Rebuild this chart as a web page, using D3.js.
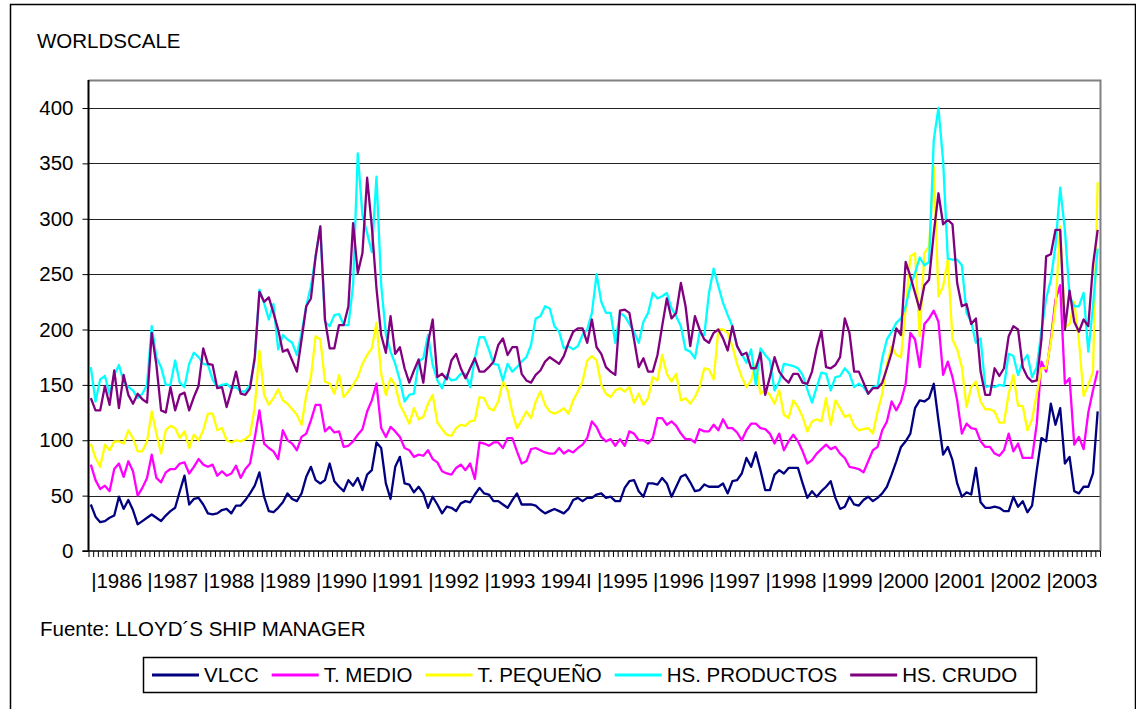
<!DOCTYPE html>
<html>
<head>
<meta charset="utf-8">
<script src="https://cdn.jsdelivr.net/npm/d3@7"></script>
<style>
  body { margin: 0; background: #fff; }
  text { font-family: Arial, "Liberation Sans", sans-serif; fill: #000; }
</style>
</head>
<body>
<div id="chart"></div>
<script>
// monthly values, Jan 1986 - Dec 2003 (WORLDSCALE)
var years = [1986,1987,1988,1989,1990,1991,1992,1993,1994,1995,1996,1997,1998,1999,2000,2001,2002,2003];
var yTicks = [0,50,100,150,200,250,300,350,400];

var vlcc = [42,31,26,27,30,32,49,38,46,37,24,27, 30,33,30,27,32,36,39,54,68,42,47,48,
  42,34,33,34,37,38,34,41,41,46,52,59, 71,49,36,35,39,44,52,47,45,52,67,76,
  64,61,64,79,63,58,54,64,59,66,55,69, 73,98,93,61,47,76,85,61,60,53,58,52,
  39,49,42,34,40,39,36,43,45,44,51,57, 52,51,45,45,42,39,46,52,42,42,42,41,
  37,34,36,38,36,34,38,46,48,45,48,48, 51,52,48,49,45,45,57,63,64,54,49,61,
  61,60,66,61,49,58,67,69,62,54,55,60, 58,58,58,61,52,63,64,70,84,76,89,73,
  55,55,69,73,70,75,75,75,61,48,54,49, 54,58,63,48,38,40,49,42,41,46,49,45,
  48,52,58,69,81,94,99,106,129,136,135,138, 151,118,87,94,82,61,49,53,51,75,44,39,
  39,40,39,36,36,49,40,45,35,41,73,102, 99,133,114,129,79,85,54,52,58,58,70,126];

var medio = [78,64,56,59,54,74,79,67,81,72,50,57, 66,87,66,62,71,74,74,79,80,70,76,83,
  78,76,78,68,72,68,70,77,66,74,79,102, 127,97,93,90,83,109,100,97,91,103,106,118,
  132,132,108,112,107,108,94,95,99,105,110,126, 136,151,111,103,112,108,103,93,91,85,87,86,
  91,83,80,72,70,69,75,78,73,79,65,98, 97,95,98,98,93,102,102,90,79,81,92,93,
  91,89,88,88,93,88,91,89,93,96,102,117, 112,103,99,101,95,101,95,108,106,100,100,97,
  102,120,120,114,117,113,106,101,101,98,110,108, 108,114,109,119,111,111,107,100,109,115,115,111,
  110,106,97,106,91,99,105,99,90,79,82,88, 92,96,92,94,88,84,76,75,74,71,81,91,
  94,109,117,135,127,135,151,197,191,166,205,210, 217,207,159,171,157,136,106,115,111,110,99,94,
  94,88,86,91,106,90,97,84,84,84,115,171, 162,191,227,240,151,156,96,103,92,125,145,163];

var pequeno = [97,84,76,96,91,99,99,97,109,102,90,90, 99,126,106,88,109,113,111,102,108,93,105,100,
  109,124,124,109,111,100,98,100,99,101,105,130, 181,141,132,138,146,136,133,128,123,114,141,157,
  194,191,153,151,142,159,139,144,150,157,169,177, 183,206,160,141,156,150,132,124,115,129,119,121,
  133,141,116,110,105,104,111,114,113,117,118,139, 138,129,127,135,153,145,125,111,118,126,120,135,
  144,132,126,124,126,129,124,136,144,153,172,176, 172,150,142,139,145,147,144,148,134,142,132,138,
  157,154,177,160,153,160,136,138,133,139,148,165, 164,155,200,200,197,185,169,157,148,154,169,142,
  145,141,133,145,123,120,136,130,121,108,117,119, 117,138,114,136,129,121,123,113,109,110,111,106,
  126,142,169,185,177,175,218,266,269,194,269,275, 347,230,239,263,191,182,166,130,148,153,135,128,
  128,126,116,116,142,159,131,131,109,119,142,165, 165,188,221,293,202,205,225,190,140,150,162,333];

var productos = [166,135,155,158,142,159,168,153,148,145,138,142, 150,203,175,166,150,150,172,152,148,169,179,175,
  169,168,155,148,150,151,147,148,144,144,150,172, 236,224,209,223,182,195,191,188,177,197,221,239,
  266,293,207,203,213,214,204,204,240,359,303,287, 270,338,240,196,180,169,154,135,141,142,171,174,
  195,168,154,147,159,154,155,160,160,148,174,193, 193,182,169,168,154,169,162,166,171,175,186,210,
  212,221,219,203,198,183,185,182,185,195,200,215, 250,225,215,215,188,215,212,205,198,188,207,215,
  233,228,230,233,219,212,203,182,180,174,197,195, 233,255,239,224,213,203,185,178,170,182,150,183,
  177,172,145,153,169,168,167,165,159,146,134,148, 161,160,145,157,158,165,160,148,151,148,142,148,
  149,174,191,198,206,210,221,239,251,265,258,261, 371,400,352,264,263,263,258,215,207,188,192,148,
  149,148,150,149,178,176,159,171,177,157,166,199, 228,245,276,328,290,230,221,221,233,180,221,273];

var crudo = [138,127,127,149,132,163,129,159,141,133,142,137, 134,197,168,127,125,148,127,141,143,127,139,149,
  183,169,168,147,148,130,145,162,142,141,147,175, 234,225,229,215,200,180,182,172,162,191,221,228,
  266,293,209,183,183,204,204,221,296,251,269,337, 293,237,195,179,212,178,184,165,152,163,173,152,
  188,209,157,160,155,172,178,165,156,165,174,162, 162,166,171,186,192,177,184,184,160,154,152,159,
  163,171,175,172,169,176,188,198,201,201,188,209, 184,178,166,162,159,217,218,215,191,166,174,162,
  162,177,203,228,210,215,242,221,185,212,200,191, 188,197,200,192,181,203,185,177,179,165,165,179,
  141,157,175,162,156,152,160,160,152,151,162,183, 199,166,165,168,175,210,197,162,162,152,142,147,
  147,152,165,179,201,195,261,248,233,218,240,245, 287,323,295,299,295,242,221,223,205,210,162,141,
  141,165,158,165,194,203,200,166,157,153,154,191, 266,268,290,290,200,235,207,198,209,203,258,290];

var names = ['VLCC', 'T. MEDIO', 'T. PEQUEÑO', 'HS. PRODUCTOS', 'HS. CRUDO'];
var colors = ['#000080', '#ff00ff', '#ffff00', '#00ffff', '#800080'];
var series = [vlcc, medio, pequeno, productos, crudo];

var W = 1136, H = 709;
var plotLeft = 88.5, plotRight = 1100, plotTop = 80, plotBottom = 551;
var n = vlcc.length;

var svg = d3.select('#chart').append('svg')
  .attr('width', W)
  .attr('height', H);

// outer frame
svg.append('rect')
  .attr('x', 10.5).attr('y', 4.5)
  .attr('width', W - 11).attr('height', H)
  .attr('fill', 'none')
  .attr('stroke', '#000')
  .attr('stroke-width', 1.5);

svg.append('text')
  .attr('x', 37).attr('y', 48)
  .style('font-size', '20.5px')
  .text('WORLDSCALE');

var x = d3.scaleLinear().domain([0, n]).range([plotLeft, plotRight]);
var y = d3.scaleLinear().domain([0, 400]).range([plotBottom, 108]);

// grid lines
svg.append('g')
  .selectAll('line')
  .data(yTicks.slice(1))
  .enter().append('line')
  .attr('x1', plotLeft).attr('x2', plotRight)
  .attr('y1', function(d) { return Math.round(y(d)) + 0.5; })
  .attr('y2', function(d) { return Math.round(y(d)) + 0.5; })
  .attr('stroke', '#222')
  .attr('stroke-width', 1);

// plot border (top / right)
svg.append('path')
  .attr('d', 'M' + plotLeft + ',' + (plotTop + 0.5) + 'H' + (plotRight + 0.5) + 'V' + plotBottom)
  .attr('fill', 'none')
  .attr('stroke', '#808080')
  .attr('stroke-width', 2);

// y axis
var yAxis = d3.axisLeft(y).tickValues(yTicks).tickSize(6).tickPadding(9);
var gy = svg.append('g')
  .attr('transform', 'translate(' + plotLeft + ',0)')
  .call(yAxis);
gy.select('.domain').remove();
gy.append('line')
  .attr('x1', 0).attr('x2', 0)
  .attr('y1', plotTop).attr('y2', plotBottom)
  .attr('stroke', '#000').attr('stroke-width', 2);
gy.selectAll('.tick line').attr('stroke', '#000');
gy.selectAll('.tick text')
  .style('font-size', '20.5px')
  .style('font-family', 'Arial, "Liberation Sans", sans-serif')
  .attr('fill', '#000');

// x axis: one tick per month
var xAxis = d3.axisBottom(x).tickValues(d3.range(0, n + 1)).tickSize(6).tickFormat('');
var gx = svg.append('g')
  .attr('transform', 'translate(0,' + plotBottom + ')')
  .call(xAxis);
gx.select('.domain').attr('stroke', '#000').attr('stroke-width', 1.5)
  .attr('d', 'M' + (plotLeft - 6) + ',0H' + plotRight);
gx.selectAll('.tick line').attr('stroke', '#000');

svg.append('g')
  .selectAll('text')
  .data(years)
  .enter().append('text')
  .attr('x', function(d, i) { return x(i * 12 + 6); })
  .attr('y', 588)
  .attr('text-anchor', 'middle')
  .style('font-size', '20.5px')
  .text(function(d, i) { return (i == 8 ? '' : '|') + d + (i == 8 ? 'I' : ''); });

// lines
var line = d3.line()
  .x(function(d, i) { return x(i + 0.5); })
  .y(function(d) { return y(d); });

svg.append('g')
  .selectAll('path')
  .data(series)
  .enter().append('path')
  .attr('d', line)
  .attr('fill', 'none')
  .attr('stroke', function(d, i) { return colors[i]; })
  .attr('stroke-width', 2.3)
  .attr('stroke-linejoin', 'round');

svg.append('text')
  .attr('x', 40).attr('y', 636)
  .style('font-size', '20.5px')
  .text('Fuente: LLOYD´S SHIP MANAGER');

// legend
var legend = svg.append('g');
legend.append('rect')
  .attr('x', 143.5).attr('y', 657.5)
  .attr('width', 893).attr('height', 35)
  .attr('fill', '#fff')
  .attr('stroke', '#000')
  .attr('stroke-width', 1.5);

var lx = 152;
names.forEach(function(name, i) {
  legend.append('line')
    .attr('x1', lx).attr('x2', lx + 47)
    .attr('y1', 675).attr('y2', 675)
    .attr('stroke', colors[i])
    .attr('stroke-width', 3);
  var t = legend.append('text')
    .attr('x', lx + 52).attr('y', 682)
    .style('font-size', '20.5px')
    .text(name);
  lx = lx + 52 + t.node().getComputedTextLength() + 13;
});
</script>
</body>
</html>
